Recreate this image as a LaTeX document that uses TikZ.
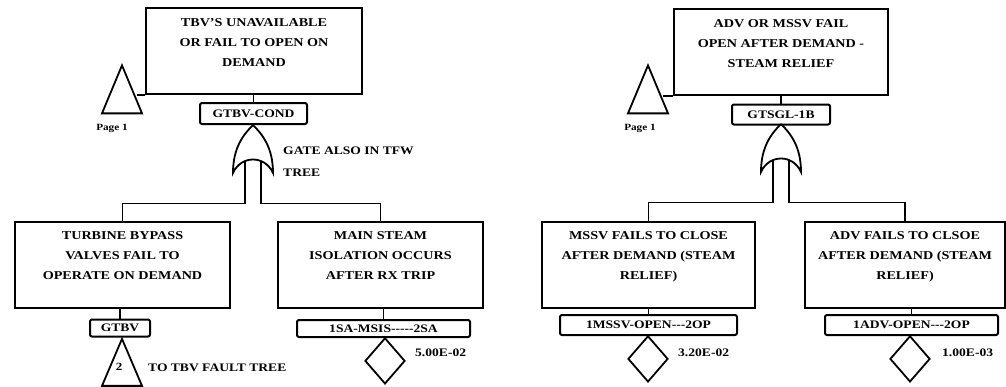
\documentclass[tikz,border=0pt]{standalone}
\usepackage{fontspec}
\setmainfont[FakeStretch=1.18]{Liberation Serif}
\usetikzlibrary{shapes.geometric, positioning, calc}
\tikzset{
  evbox/.style={
    rectangle, draw, line width=2pt, inner sep=5pt,
    font=\bfseries\fontsize{12}{20}\selectfont
  },
  tagbox/.style={
    rectangle, draw, rounded corners=2pt, line width=2pt, inner sep=0pt,
    font=\bfseries\fontsize{11.5}{12}\selectfont
  },
  wire/.style={line width=1.8pt},
  xfer/.style={
    isosceles triangle, shape border rotate=90, isosceles triangle stretches,
    minimum width=40pt, minimum height=48pt, inner sep=0pt,
    draw, line width=1.8pt, anchor=apex, font=\bfseries\fontsize{11}{12}\selectfont
  },
  basic/.style={
    diamond, draw, line width=1.8pt, inner sep=0pt,
    minimum width=40pt, minimum height=46pt, anchor=north
  },
  note/.style={font=\bfseries\fontsize{11.5}{22}\selectfont, align=left, inner sep=0pt},
  pagenote/.style={font=\bfseries\fontsize{9.5}{10}\selectfont, inner sep=0pt},
  orgate/.pic={
    \draw[line width=1.8pt, fill=white] (0,0) .. controls (-9,9) and (-20,22) .. (-20,48)
      .. controls (-12,30) and (12,30) .. (20,48)
      .. controls (20,22) and (9,9) .. (0,0);
  },
}
\newcommand{\evtext}[2]{\parbox[c][76pt][t]{#1}{\centering\rule{0pt}{13pt}#2}}

\begin{document}
\begin{tikzpicture}[x=1pt, y=-1pt]
  \useasboundingbox (0,0) rectangle (1006,386);

  % ---------- left tree ----------
  \node[evbox] (tbvs) at (254,51)
    {\evtext{206pt}{TBV'S UNAVAILABLE\\OR FAIL TO OPEN ON\\DEMAND}};
  \node[xfer] (pgA) at (122,63) {};
  \node[pagenote] (pgAtxt) at (112,128) {Page 1};
  \node[tagbox, minimum width=107pt, minimum height=21pt] (gtbvcond) at (253.5,113.5) {GTBV-COND};
  \node[note, anchor=north west] (gAnote) at (283,147) {GATE ALSO IN TFW\\TREE};

  \node[evbox] (tbv) at (122.5,264.5)
    {\evtext{205pt}{TURBINE BYPASS\\VALVES FAIL TO\\OPERATE ON DEMAND}};
  \node[evbox] (msis) at (380.5,264.5)
    {\evtext{195pt}{MAIN STEAM\\ISOLATION OCCURS\\AFTER RX TRIP}};

  \node[tagbox, minimum width=60pt, minimum height=17pt] (gtbv) at (120,328) {GTBV};
  \node[xfer, minimum height=47pt] (tbvtree) at (122,336.5) {\raisebox{6pt}{\hspace{-6pt}2}};
  \node[note, anchor=west] (tbvnote) at (148,368) {TO TBV FAULT TREE};

  \node[tagbox, minimum width=173pt, minimum height=17pt] (msistag) at (383.5,328.5) {1SA-MSIS{-}{-}{-}{-}{-}2SA};
  \node[basic] (msisev) at (385,337) {};
  \node[note, anchor=west] (msisp) at (415,353) {5.00E-02};

  % ---------- right tree ----------
  \node[evbox] (relief) at (781,52)
    {\evtext{204pt}{ADV OR MSSV FAIL\\OPEN AFTER DEMAND -\\STEAM RELIEF}};
  \node[xfer] (pgB) at (648,63) {};
  \node[pagenote] (pgBtxt) at (640,128) {Page 1};
  \node[tagbox, minimum width=98pt, minimum height=20pt] (gtsgl) at (781,114.5) {GTSGL-1B};

  \node[evbox] (mssv) at (648.5,264.5)
    {\evtext{203pt}{MSSV FAILS TO CLOSE\\AFTER DEMAND (STEAM\\RELIEF)}};
  \node[evbox] (adv) at (905,264.5)
    {\evtext{190pt}{ADV FAILS TO CLSOE\\AFTER DEMAND (STEAM\\RELIEF)}};

  \node[tagbox, minimum width=177pt, minimum height=20pt] (mssvtag) at (648.5,325) {1MSSV-OPEN{-}{-}{-}2OP};
  \node[basic] (mssvev) at (648,335) {};
  \node[note, anchor=west] (mssvp) at (678,353) {3.20E-02};

  \node[tagbox, minimum width=173pt, minimum height=20pt] (advtag) at (911.5,325) {1ADV-OPEN{-}{-}{-}2OP};
  \node[basic] (advev) at (910,335) {};
  \node[note, anchor=west] (advp) at (942,353) {1.00E-03};

  % ---------- connectors ----------
  \draw[wire] (tbvs.south west) -- (tbvs.south west -| pgA.east);
  \draw[wire] (tbvs.south -| gtbvcond.north) -- (gtbvcond.north);
  \draw[wire] (tbv.south -| gtbv.north) -- (gtbv.north);
  \draw[wire] (msis.south -| msistag.north) -- (msistag.north);

  \draw[wire] (relief.south west) -- (relief.south west -| pgB.east);
  \draw[wire] (relief.south) -- (gtsgl.north);
  \draw[wire] (mssv.south) -- (mssvtag.north);
  \draw[wire] (adv.south -| advtag.north) -- (advtag.north);

  % or gates, inputs drawn first
  \coordinate (gAtip) at (253,125);
  \coordinate (gBtip) at (781,124);
  \draw[wire] ($(gAtip)+(-8,37)$) |- ($(tbv.north)+(0,-17)$) -- (tbv.north);
  \draw[wire] ($(gAtip)+(8,37)$) |- ($(msis.north)+(0,-17)$) -- (msis.north);
  \draw[wire] ($(gBtip)+(-8,37)$) |- ($(mssv.north)+(0,-18)$) -- (mssv.north);
  \draw[wire] ($(gBtip)+(8,37)$) |- ($(adv.north)+(0,-18)$) -- (adv.north);
  \pic (gA) at (gAtip) {orgate};
  \pic (gB) at (gBtip) {orgate};
\end{tikzpicture}
\end{document}
